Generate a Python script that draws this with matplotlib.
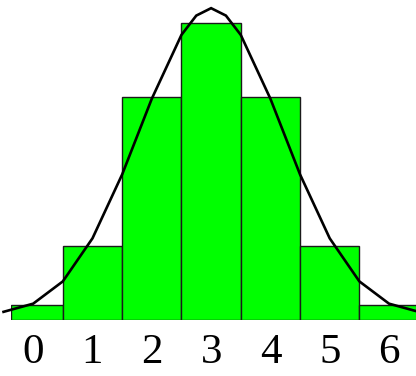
import numpy as np
import matplotlib.pyplot as plt

# counts per outcome
outcomes = [0, 1, 2, 3, 4, 5, 6]
counts = [1, 5, 15, 20, 15, 5, 1]
tick_labels = ['0', '1', '2', '3', '4', '5', '6']

# fitted bell curve, sampled points
curve_x = [-0.5, 0, 0.5, 1, 1.5, 2, 2.5, 2.75, 3, 3.25, 3.5, 4, 4.5, 5, 5.5, 6, 6.5]
curve_y = [0.55, 1.1, 2.6, 5.5, 9.8, 14.9, 19.2, 20.5, 21.0, 20.5, 19.2, 14.9, 9.8, 5.5, 2.6, 1.1, 0.55]

W, H = 416, 376
fig = plt.figure(figsize=(W / 100, H / 100), dpi=100)
ax = fig.add_axes([11 / W, 56 / H, 1 - 11 / W, 1 - 56 / H])

x_left = -0.374
ax.set_xlim(x_left, 6.455)
ax.set_ylim(0, 21.55)

bars = ax.bar(outcomes, counts, width=1.0, color='#00ff00',
              edgecolor='#1a1a1a', linewidth=1.0)
# first bar trimmed to the left limit so its outline stays visible
bars[0].set_width(bars[0].get_x() + 1.0 - x_left)
bars[0].set_x(x_left)

ax.plot(curve_x, curve_y, color='black', linewidth=1.9, clip_on=False,
        solid_joinstyle='miter')

ax.set_xticks(outcomes)
ax.set_xticklabels(tick_labels, family='Liberation Serif', fontsize=31)
ax.tick_params(axis='x', length=0, pad=10)
ax.set_yticks([])
for s in ax.spines.values():
    s.set_visible(False)

fig.savefig('out.png', dpi=100)
